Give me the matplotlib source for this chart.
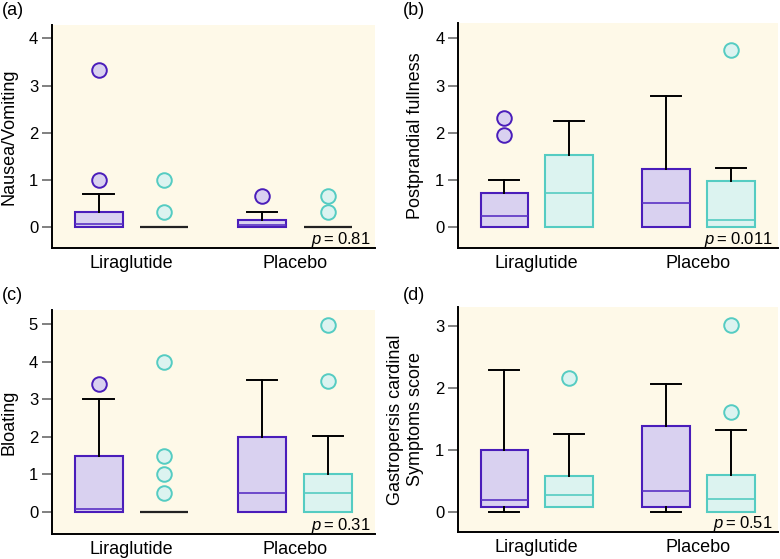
import matplotlib
matplotlib.use("Agg")
import matplotlib.pyplot as plt

plt.rcParams['font.family'] = ['Liberation Sans', 'DejaVu Sans']
plt.rcParams['mathtext.fontset'] = 'custom'
plt.rcParams['mathtext.rm'] = 'Liberation Sans'
plt.rcParams['mathtext.it'] = 'Liberation Sans:italic'

groups = ["Liraglutide", "Placebo"]
panel_labels = ["(a)", "(b)", "(c)", "(d)"]
ylabels = ["Nausea/Vomiting", "Postprandial fullness", "Bloating",
           "Gastropersis cardinal\nSymptoms score"]
pvalues = ["0.81", "0.011", "0.31", "0.51"]
yticks = [[0, 1, 2, 3, 4], [0, 1, 2, 3, 4], [0, 1, 2, 3, 4, 5], [0, 1, 2, 3]]
ylims = [(-0.44, 4.28), (-0.44, 4.32), (-0.59, 5.38), (-0.33, 3.31)]

# Box statistics: [Liraglutide, Placebo] for each arm
# each entry: (whislo, q1, med, q3, whishi, [fliers])
purple_stats = [
    [(0, 0, 0.07, 0.33, 0.70, [1.0, 3.33]), (0, 0, 0.05, 0.15, 0.33, [0.67])],
    [(0, 0, 0.24, 0.72, 1.0, [1.95, 2.31]), (0, 0, 0.51, 1.24, 2.77, [])],
    [(0, 0, 0.07, 1.49, 3.0, [3.40]), (0, 0, 0.50, 2.0, 3.51, [])],
    [(0, 0.075, 0.19, 1.0, 2.29, []), (0, 0.075, 0.34, 1.38, 2.06, [])],
]
teal_stats = [
    [(0, 0, 0, 0, 0, [0.33, 1.0]), (0, 0, 0, 0, 0, [0.33, 0.67])],
    [(0, 0, 0.73, 1.52, 2.24, []), (0, 0, 0.16, 0.98, 1.26, [3.75])],
    [(0, 0, 0, 0, 0, [0.5, 1.0, 1.49, 3.99]), (0, 0, 0.51, 1.0, 2.02, [3.50, 4.98])],
    [(0.075, 0.075, 0.27, 0.57, 1.25, [2.16]), (0, 0, 0.21, 0.60, 1.32, [1.61, 3.02])],
]

BG = '#FEF9E8'
PURPLE_EDGE = '#4A1DBA'
PURPLE_FILL = '#D9D1F0'
PURPLE_MED = '#5A32C4'
TEAL_EDGE = '#55CCC2'
TEAL_FILL = '#DCF3F0'
TEAL_MED = '#55CCC2'

fig = plt.figure(figsize=(7.8, 5.59), dpi=100)
axpos = [
    [0.0667, 0.5564, 0.4143, 0.3986],
    [0.5876, 0.5564, 0.4094, 0.4020],
    [0.0667, 0.0450, 0.4143, 0.4004],
    [0.5876, 0.0480, 0.4094, 0.4033],
]
labelpos = [(0.003, 0.997), (0.516, 0.997), (0.003, 0.487), (0.516, 0.487)]

centers = [1, 2]
offset = 0.2
width = 0.295


def draw_arm(ax, stats_list, positions, edge, fill, medc):
    for st, pos in zip(stats_list, positions):
        wlo, q1, med, q3, whi, fl = st
        collapsed = (q1 == q3)
        d = dict(whislo=wlo, q1=q1, med=med, q3=q3, whishi=whi, fliers=fl)
        res = ax.bxp([d], positions=[pos], widths=width, patch_artist=True,
                     showfliers=True, manage_ticks=False,
                     boxprops=dict(facecolor=fill, edgecolor=edge, linewidth=1.5),
                     medianprops=dict(color='#222222' if collapsed else medc,
                                      linewidth=1.6 if collapsed else 1.2),
                     whiskerprops=dict(color='black', linewidth=1.4),
                     capprops=dict(color='black', linewidth=1.4),
                     capwidths=width * 0.63,
                     flierprops=dict(marker='o', markersize=10.5,
                                     markerfacecolor=fill, markeredgecolor=edge,
                                     markeredgewidth=1.4, linestyle='none'))
        if wlo == q1:
            res['caps'][0].set_visible(False)
            res['whiskers'][0].set_visible(False)
        if whi == q3:
            res['caps'][1].set_visible(False)
            res['whiskers'][1].set_visible(False)
        if collapsed:
            res['boxes'][0].set_visible(False)


for i in range(4):
    ax = fig.add_axes(axpos[i])
    ax.set_facecolor(BG)
    draw_arm(ax, purple_stats[i], [c - offset for c in centers],
             PURPLE_EDGE, PURPLE_FILL, PURPLE_MED)
    draw_arm(ax, teal_stats[i], [c + offset for c in centers],
             TEAL_EDGE, TEAL_FILL, TEAL_MED)
    ax.set_xlim(0.515, 2.49)
    ax.set_ylim(*ylims[i])
    ax.set_yticks(yticks[i])
    ax.set_xticks(centers)
    ax.set_xticklabels(groups, fontsize=13)
    ax.tick_params(axis='x', length=0, pad=5)
    ax.tick_params(axis='y', length=7, width=1.4, color='#808080',
                   labelsize=12, pad=3)
    for s in ['top', 'right']:
        ax.spines[s].set_visible(False)
    for s in ['left', 'bottom']:
        ax.spines[s].set_linewidth(1.4)
        ax.spines[s].set_color('black')
    ax.set_ylabel(ylabels[i], fontsize=13, labelpad=8)
    ax.text(0.985, 0.018, r'$p$' + '\u2009=\u2009' + pvalues[i],
            transform=ax.transAxes, ha='right', va='baseline', fontsize=12)
    fig.text(labelpos[i][0], labelpos[i][1], panel_labels[i], fontsize=13,
             ha='left', va='top')

fig.savefig('out.png', dpi=100)
